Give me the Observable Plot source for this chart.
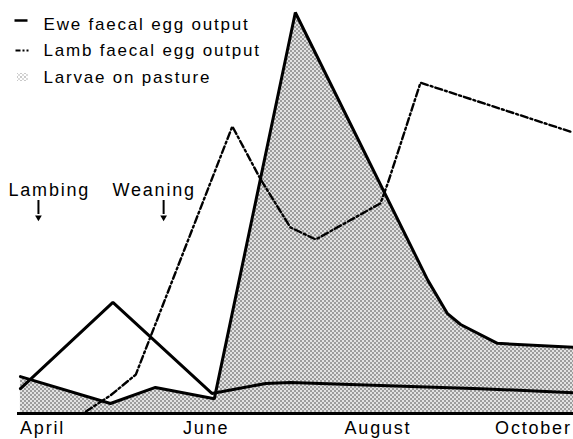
<!DOCTYPE html>
<html><head><meta charset="utf-8">
<script src="https://cdn.jsdelivr.net/npm/d3@7"></script>
<script src="https://cdn.jsdelivr.net/npm/@observablehq/plot@0.6"></script>
<style>
html,body{margin:0;padding:0;background:#fff;}
svg text{letter-spacing:1.8px;}
</style></head><body><div id="chart"></div>
<script>
// x values are month numbers (4 = April, 6 = June, ...), y values relative units (peak = 100)
const monthTicks = [4, 6, 8.1, 10];
const monthLabels = ["April", "June", "August", "October"];

const eweMonth = [3.73, 4.86, 6.07, 6.73, 7.03, 8.13, 9.35, 10.49];
const eweValue = [6.2, 27.7, 5.0, 7.5, 7.7, 7.0, 6.2, 5.2];

const lambMonth = [4.53, 4.83, 5.14, 6.32, 6.66, 7.03, 7.34, 8.13, 8.22, 8.62, 10.48];
const lambValue = [0.5, 4.5, 9.7, 71.6, 58.6, 46.4, 43.4, 52.4, 57.4, 82.5, 70.1];

const larvaeMonth = [3.73, 4.83, 5.38, 6.10, 7.09, 8.71, 8.95, 9.11, 9.56, 10.49];
const larvaeValue = [9.2, 2.5, 6.5, 3.7, 100, 33.2, 24.9, 22.2, 17.5, 16.5];

const eventLabels = ["Lambing", "Weaning"];
const eventMonth = [3.95, 5.48];

const legendLabels = ["Ewe faecal egg output", "Lamb faecal egg output", "Larvae on pasture"];

// tables
const ewe = eweMonth.map((m, i) => ({m, v: eweValue[i]}));
const lamb = lambMonth.map((m, i) => ({m, v: lambValue[i]}));
const larvae = larvaeMonth.map((m, i) => ({m, v: larvaeValue[i]}));
const events = eventLabels.map((label, i) => ({label, m: eventMonth[i]}));

// layout helpers: pixel layout -> data units (for legend / annotations)
const W = 573, H = 439, mL = 17, mR = 0, mT = 12, mB = 26;
const xDom = [3.694, 10.49], yDom = [0, 100];
const px = X => xDom[0] + (X - mL) / (W - mL - mR) * (xDom[1] - xDom[0]);
const py = Y => yDom[0] + (H - mB - Y) / (H - mB - mT) * (yDom[1] - yDom[0]);

const font = "Liberation Sans, Arial, Helvetica, sans-serif";
const legendRows = legendLabels.map((label, i) => ({label, i}));
const rowBase = [29, 55, 82];
const rowMid = [20, 50, 77];
const eventTextLeft = [8, 112];

const svg = Plot.plot({
  width: W, height: H,
  marginLeft: mL, marginRight: mR, marginTop: mT, marginBottom: mB,
  x: {domain: xDom, axis: null},
  y: {domain: yDom, axis: null},
  style: {fontFamily: font, background: "#fff", color: "#000"},
  marks: [
    Plot.areaY(larvae, {x: "m", y: "v", fill: "#bbb"}),
    Plot.line(larvae, {x: "m", y: "v", stroke: "#000", strokeWidth: 3, strokeLinejoin: "miter"}),
    Plot.line(ewe, {x: "m", y: "v", stroke: "#000", strokeWidth: 3, strokeLinejoin: "miter"}),
    Plot.line(lamb, {x: "m", y: "v", stroke: "#000", strokeWidth: 2.4, strokeDasharray: "7,3,2,3", strokeLinejoin: "miter"}),
    Plot.ruleY([0], {stroke: "#000", strokeWidth: 3}),
    Plot.axisX(monthTicks, {
      anchor: "bottom", tickSize: 0, tickPadding: 8, fontSize: 18,
      tickFormat: d => monthLabels[monthTicks.indexOf(d)], label: null
    }),
    // annotations
    Plot.text(events, {x: (d, i) => px(eventTextLeft[i]), y: () => py(195), text: "label",
      textAnchor: "start", lineAnchor: "bottom", fontSize: 18}),
    Plot.ruleX(events, {x: "m", y1: () => py(200), y2: () => py(214), strokeWidth: 2}),
    Plot.dot(events, {x: "m", y: () => py(217), symbol: "triangle2", rotate: 180, r: 3.2, fill: "#000", stroke: "none"}),
    // legend
    Plot.text(legendRows, {x: () => px(43), y: d => py(rowBase[d.i]), text: "label",
      textAnchor: "start", lineAnchor: "bottom", fontSize: 17}),
    Plot.link([legendRows[0]], {x1: () => px(14), x2: () => px(27), y1: () => py(rowMid[0]), y2: () => py(rowMid[0]), strokeWidth: 2.5}),
    Plot.link([legendRows[1]], {x1: () => px(15), x2: () => px(28), y1: () => py(rowMid[1]), y2: () => py(rowMid[1]), strokeWidth: 2, strokeDasharray: "5,2,2,2"}),
    Plot.rect([legendRows[2]], {x1: () => px(17), x2: () => px(28), y1: () => py(81), y2: () => py(73), fill: "#ccc"})
  ]
});

const defs = d3.select(svg).insert("defs", ":first-child");
const pat = defs.append("pattern").attr("id", "stipple").attr("patternUnits", "userSpaceOnUse")
  .attr("width", 4).attr("height", 4);
pat.append("rect").attr("width", 4).attr("height", 4).attr("fill", "#e2e2e2");
pat.append("circle").attr("cx", 1).attr("cy", 1).attr("r", 0.75).attr("fill", "#333");
pat.append("circle").attr("cx", 3).attr("cy", 3).attr("r", 0.75).attr("fill", "#333");
const pat2 = defs.append("pattern").attr("id", "stippleLight").attr("patternUnits", "userSpaceOnUse")
  .attr("width", 4).attr("height", 4);
pat2.append("rect").attr("width", 4).attr("height", 4).attr("fill", "#fff");
pat2.append("circle").attr("cx", 1).attr("cy", 1).attr("r", 0.65).attr("fill", "#666");
pat2.append("circle").attr("cx", 3).attr("cy", 3).attr("r", 0.65).attr("fill", "#999");
d3.select(svg).selectAll("g[aria-label='area'] path").attr("fill", "url(#stipple)");
d3.select(svg).selectAll("g[aria-label='rect'] rect").attr("fill", "url(#stippleLight)");

document.getElementById("chart").appendChild(svg);
</script>
</body></html>
